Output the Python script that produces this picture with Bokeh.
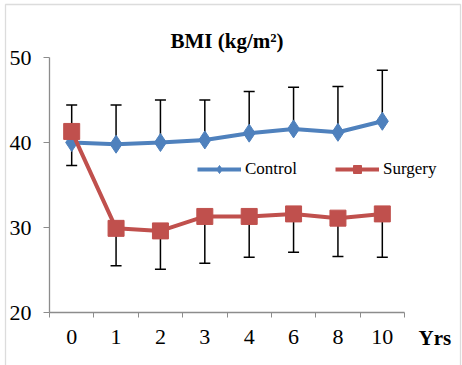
from bokeh.plotting import figure
from bokeh.models import (Range1d, FixedTicker, Legend, LegendItem, Label,
                          BoxAnnotation, LinearAxis)
from bokeh.embed import file_html
from bokeh.resources import INLINE

years = ["0", "1", "2", "3", "4", "6", "8", "10"]
control_mean = [40.0, 39.8, 40.0, 40.3, 41.1, 41.6, 41.2, 42.5]
control_upper = [44.4, 44.4, 45.0, 45.0, 46.0, 46.5, 46.6, 48.5]
surgery_mean = [41.3, 29.9, 29.6, 31.3, 31.3, 31.6, 31.1, 31.6]
surgery_lower = [37.3, 25.5, 25.1, 25.8, 26.5, 27.1, 26.6, 26.5]
y_ticks = [20, 30, 40, 50]
y_min, y_max = 20, 50

BLUE = "#4F81BD"
RED = "#C0504D"
GRAY = "#8C8C8C"
FONT = "'Liberation Serif', 'Times New Roman', serif"

W, H = 462, 365
# plot area in pixels (layout)
PX0, PX1 = 49, 404
PY0, PY1 = 312, 57
n = len(years)
sx = (PX1 - PX0) / n
sy = (PY0 - PY1) / (y_max - y_min)

xs = [i + 0.5 for i in range(n)]

x_range = Range1d(-PX0 / sx, n + (W - PX1) / sx)
y_range = Range1d(y_min - (H - PY0) / sy, y_max + PY1 / sy)

p = figure(width=W, height=H, output_backend="svg", toolbar_location=None,
           x_range=x_range, y_range=y_range, x_axis_location=None, y_axis_location=None,
           min_border=0)
p.outline_line_color = None
p.xgrid.visible = False
p.ygrid.visible = False
p.background_fill_color = "white"
p.border_fill_color = "white"

# axes drawn inside the frame at fixed positions
xa = LinearAxis(fixed_location=y_min, bounds=(0, n))
xa.ticker = FixedTicker(ticks=xs, minor_ticks=list(range(n + 1)))
xa.major_label_overrides = {x: y for x, y in zip(xs, years)}
xa.major_tick_out = 0
xa.major_tick_in = 0
xa.minor_tick_out = 5
xa.minor_tick_in = 0
xa.minor_tick_line_color = GRAY
xa.axis_line_color = GRAY
xa.axis_line_width = 1.3
xa.major_label_text_font = FONT
xa.major_label_text_font_size = "22px"
xa.major_label_text_color = "black"
xa.major_label_standoff = 12
p.add_layout(xa, "below")

ya = LinearAxis(fixed_location=0, bounds=(y_min, y_max))
ya.ticker = FixedTicker(ticks=y_ticks)
ya.major_tick_out = 6
ya.major_tick_in = 0
ya.minor_tick_out = 0
ya.minor_tick_in = 0
ya.major_tick_line_color = GRAY
ya.axis_line_color = GRAY
ya.axis_line_width = 1.3
ya.major_label_text_font = FONT
ya.major_label_text_font_size = "22px"
ya.major_label_text_color = "black"
ya.major_label_standoff = 12
p.add_layout(ya, "left")

# error bars (drawn under the series)
p.segment(x0=xs, y0=control_mean, x1=xs, y1=control_upper, line_color="black", line_width=1.5)
p.scatter(x=xs, y=control_upper, marker="dash", size=11, line_color="black", line_width=1.5)
p.segment(x0=xs, y0=surgery_mean, x1=xs, y1=surgery_lower, line_color="black", line_width=1.5)
p.scatter(x=xs, y=surgery_lower, marker="dash", size=11, line_color="black", line_width=1.5)

cl = p.line(xs, control_mean, line_color=BLUE, line_width=4)
cm = p.scatter(xs, control_mean, marker="diamond", size=18, fill_color=BLUE, line_color=BLUE)
sl = p.line(xs, surgery_mean, line_color=RED, line_width=4)
sm = p.scatter(xs, surgery_mean, marker="square", size=16, fill_color=RED, line_color=RED)

legend = Legend(items=[LegendItem(label="Control", renderers=[cl, cm]),
                       LegendItem(label="Surgery", renderers=[sl, sm])],
                orientation="horizontal", location=(197, H - 179),
                glyph_width=44, glyph_height=20, label_standoff=4, spacing=38,
                padding=0, margin=0, border_line_color=None,
                background_fill_alpha=0, label_text_font=FONT,
                label_text_font_size="17px", label_text_color="black")
p.add_layout(legend, "center")

# title and axis name
p.add_layout(Label(x=n / 2, y=y_max + 17 / sy, text="BMI (kg/m²)", text_font=FONT,
                   text_font_size="21px", text_font_style="bold", text_color="black",
                   text_align="center", text_baseline="middle"))
p.add_layout(Label(x=n + 14 / sx, y=y_min - 25 / sy, text="Yrs", text_font=FONT,
                   text_font_size="21px", text_font_style="bold", text_color="black",
                   text_baseline="middle"))

# outer chart border (bottom edge lies below the window)
p.add_layout(BoxAnnotation(left=(5 - PX0) / sx, right=n + (460 - PX1) / sx,
                           top=y_max + (PY1 - 4) / sy, bottom=y_min - (H + 20 - PY0) / sy,
                           fill_alpha=0, line_color=GRAY, line_width=1.3))

open("out.html", "w").write(file_html(p, INLINE))
